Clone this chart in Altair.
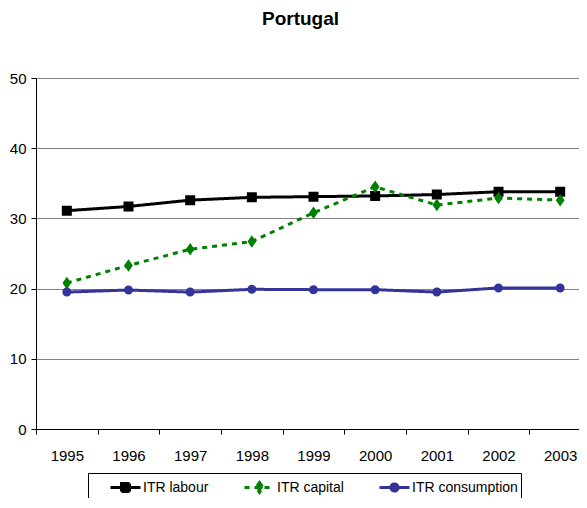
import altair as alt
import pandas as pd

years = ["1995", "1996", "1997", "1998", "1999", "2000", "2001", "2002", "2003"]
series_names = ["ITR labour", "ITR capital", "ITR consumption"]
itr_labour = [31.1, 31.7, 32.6, 33.0, 33.1, 33.2, 33.4, 33.8, 33.8]
itr_capital = [20.8, 23.3, 25.6, 26.7, 30.8, 34.5, 31.9, 32.9, 32.6]
itr_consumption = [19.5, 19.8, 19.5, 19.9, 19.85, 19.85, 19.5, 20.1, 20.1]
colors = ["#000000", "#008000", "#333399"]
dashes = [[1, 0], [5, 5], [1, 0]]
shapes = [
    "M-1.5,0H1.5M-0.4,-0.4H0.4V0.4H-0.4Z",
    "M-1.5,0H1.5M0,-0.5L0.35,0L0,0.5L-0.35,0Z",
    "M-1.5,0H1.5M-0.36,0A0.36,0.36 0 1,0 0.36,0A0.36,0.36 0 1,0 -0.36,0Z",
]

rows = []
for name, vals in zip(series_names, [itr_labour, itr_capital, itr_consumption]):
    for y, v in zip(years, vals):
        rows.append({"year": y, "series": name, "value": v})
df = pd.DataFrame(rows)

FONT = "Liberation Sans, Arial"

leg = alt.Legend(
    orient="none", legendX=52, legendY=395, direction="horizontal",
    columns=3, gridAlign="none", columnPadding=16, padding=3,
    strokeColor="black", symbolSize=400, symbolStrokeWidth=3,
    symbolOffset=23, labelOffset=6, labelFont=FONT, labelFontSize=14,
    labelColor="black", title=None, symbolOpacity=1,
)

x = alt.X("year:O", title=None, sort=years,
          scale=alt.Scale(type="band", paddingInner=0, paddingOuter=0),
          axis=alt.Axis(tickBand="extent", labelAngle=0, labelPadding=14, tickSize=5,
                        domainColor="black", tickColor="black", grid=False,
                        labelFont=FONT, labelFontSize=15, labelColor="black"))
y = alt.Y("value:Q", title=None,
          scale=alt.Scale(domain=[0, 50], nice=False),
          axis=alt.Axis(values=[0, 10, 20, 30, 40, 50], tickSize=5, labelPadding=5,
                        domainColor="black", tickColor="black", gridColor="#808080",
                        gridWidth=1, labelFont=FONT, labelFontSize=15, labelColor="black"))
color = alt.Color("series:N", sort=series_names,
                  scale=alt.Scale(domain=series_names, range=colors), legend=leg)

lines = alt.Chart(df).mark_line(strokeWidth=3).encode(
    x=x, y=y, color=color,
    strokeDash=alt.StrokeDash("series:N", sort=series_names,
                              scale=alt.Scale(domain=series_names, range=dashes), legend=leg),
)
points = alt.Chart(df).mark_point(filled=True, opacity=1, size=625).encode(
    x=x, y=y, color=color,
    shape=alt.Shape("series:N", sort=series_names,
                    scale=alt.Scale(domain=series_names, range=shapes), legend=leg),
)

chart = alt.layer(lines, points).properties(
    width=555, height=351,
    title=alt.TitleParams("Portugal", font=FONT, fontSize=19, fontWeight="bold",
                          color="black", anchor="middle", offset=42, dx=-13),
    autosize=alt.AutoSizeParams(type="none"),
    padding={"left": 28, "top": 70, "right": -12, "bottom": 69},
).configure_view(stroke=None).configure(background="white")

chart.save("out.html", embed_options={"renderer": "svg", "actions": False})
